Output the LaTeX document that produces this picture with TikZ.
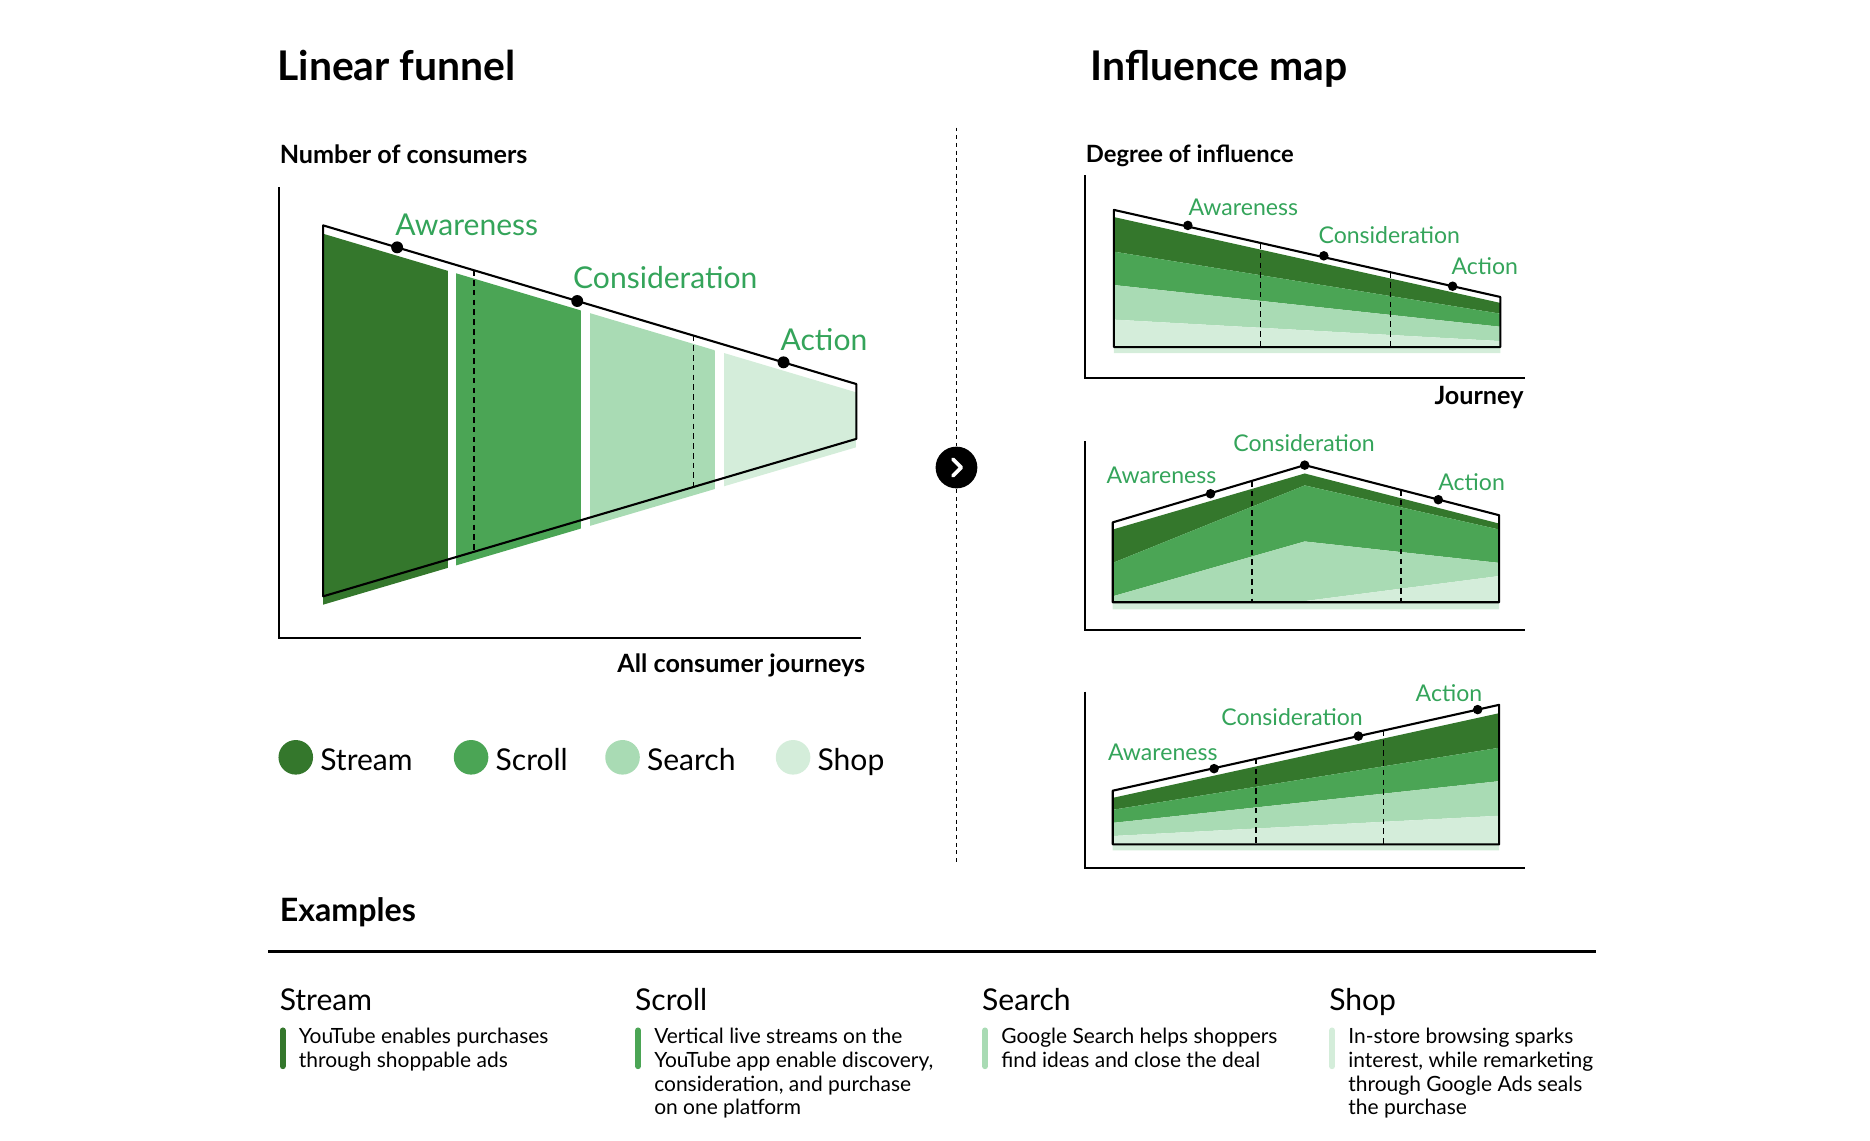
\documentclass[tikz,border=0pt]{standalone}
\usepackage{fontspec}
\setmainfont{Lato}
\usetikzlibrary{positioning}

\definecolor{streamgreen}{HTML}{34772C}
\definecolor{scrollgreen}{HTML}{4BA555}
\definecolor{searchgreen}{HTML}{A9DBB4}
\definecolor{shopgreen}{HTML}{D4EDDA}
\definecolor{labelgreen}{HTML}{34A45A}

\begin{document}
\begin{tikzpicture}[
  x=0.012cm, y=-0.012cm,
  axis/.style={line width=0.6pt},
  outline/.style={draw=black, line width=0.6pt, line join=round},
  divider/.style={dash pattern=on 1.6pt off 1.2pt, line width=0.5pt},
  separator/.style={dash pattern=on 1.1pt off 1.1pt, line width=0.55pt},
  stage/.style={text=labelgreen, anchor=base west, inner sep=0pt, font=\fontsize{8.6}{10}\selectfont},
  small stage/.style={stage, font=\fontsize{6.6}{8}\selectfont},
  heading/.style={anchor=base west, inner sep=0pt, font=\bfseries\fontsize{11.7}{14}\selectfont},
  axislabel/.style={inner sep=0pt, font=\bfseries\fontsize{7.2}{9}\selectfont},
  legendtext/.style={anchor=base west, inner sep=0pt, font=\fontsize{8.6}{10}\selectfont},
  colhead/.style={anchor=base west, inner sep=0pt, font=\fontsize{8.6}{10}\selectfont},
  body/.style={anchor=north west, inner sep=0pt, align=left, font=\fontsize{6}{6.8}\selectfont},
  bar/.style={line width=1.7pt, line cap=round}
]
\useasboundingbox (0,0) rectangle (1568,956);

% Titles
\node[heading] (funneltitle) at (232,67.5) {Linear funnel};
\node[heading] (maptitle) at (914,67.5) {Influence map};

% Linear funnel
\node[axislabel, anchor=base west] (consumers) at (234,137) {Number of consumers};
\node[axislabel, anchor=base east] (journeys) at (726,564) {All consumer journeys};
\draw[axis] (234,157) -- (234,535) -- (722,535);

\begin{scope}
  \clip (271,196) -- (718,329) -- (718,375) -- (271,507) -- cycle;
  \fill[streamgreen] (271,150) rectangle (375.6,520);
  \fill[scrollgreen] (382.4,150) rectangle (487.4,520);
  \fill[searchgreen] (494.4,150) rectangle (599.5,520);
  \fill[shopgreen] (607,150) rectangle (718,520);
\end{scope}
\draw[divider] (397.4,226.6) -- (397.4,462.7);
\draw[divider] (581.4,281.3) -- (581.4,408.3);
\draw[outline] (271,189) -- (718,322) -- (718,368) -- (271,500) -- cycle;

\fill (333,207.4) circle (5);
\fill (484,252.4) circle (5);
\fill (657,303.8) circle (5);
\node[stage] (awareness) at (331,197.5) {Awareness};
\node[stage] (consideration) at (480,241.5) {Consideration};
\node[stage] (action) at (654,293.5) {Action};

% Legend
\foreach \cx/\name/\col [count=\i] in {248/Stream/streamgreen, 395/Scroll/scrollgreen, 522/Search/searchgreen, 665/Shop/shopgreen} {
  \fill[\col] (\cx,635) circle (14.5);
  \node[legendtext] (legend\i) at (\cx+20,646) {\name};
}

% Separator with arrow button
\node[circle, fill=black, minimum size=0.42cm, inner sep=0pt] (next) at (802,392) {};
\draw[white, line width=1.1pt, line cap=round, line join=round]
  ([shift={(-3,-7)}]next.center) -- ([shift={(4,0)}]next.center) -- ([shift={(-3,7)}]next.center);
\draw[separator] (802,107) -- (next);
\draw[separator] (next) -- (802,723);

% Influence map: falling
\node[axislabel, anchor=base west, font=\bfseries\fontsize{6.8}{9}\selectfont] (influence) at (910,136) {Degree of influence};
\node[axislabel, anchor=base east] (journey) at (1278,339) {Journey};
\draw[axis] (910,147) -- (910,317) -- (1279,317);
\fill[streamgreen] (934,182) -- (1258,254) -- (1258,263) -- (934,211) -- cycle;
\fill[scrollgreen] (934,211) -- (1258,263) -- (1258,274) -- (934,239) -- cycle;
\fill[searchgreen] (934,239) -- (1258,274) -- (1258,286) -- (934,268) -- cycle;
\fill[shopgreen] (934,268) -- (1258,286) -- (1258,296) -- (934,296) -- cycle;
\draw[divider] (1057,203.7) -- (1057,291);
\draw[divider] (1166,228.3) -- (1166,291);
\draw[outline] (934,176) -- (1258,249) -- (1258,291) -- (934,291) -- cycle;
\fill (996,189) circle (4);
\fill (1110,214.5) circle (4);
\fill (1218,240) circle (4);
\node[small stage] (awareness1) at (996,181) {Awareness};
\node[small stage] (consideration1) at (1105,204) {Consideration};
\node[small stage] (action1) at (1216.5,230) {Action};

% Influence map: peak
\draw[axis] (910,370) -- (910,528) -- (1279,528);
\fill[streamgreen] (933,444) -- (1094,397) -- (1257,439) -- (1257,444) -- (1094,407) -- (933,472) -- cycle;
\fill[scrollgreen] (933,472) -- (1094,407) -- (1257,444) -- (1257,472) -- (1094,454) -- (933,500) -- cycle;
\fill[searchgreen] (933,500) -- (1094,454) -- (1257,472) -- (1257,483) -- (1094,504) -- (933,505) -- cycle;
\fill[shopgreen] (933,505) -- (1094,504) -- (1257,483) -- (1257,511) -- (933,511) -- cycle;
\draw[divider] (1050,403.4) -- (1050,505);
\draw[divider] (1175,410.9) -- (1175,505);
\draw[outline] (933,438) -- (1094,390) -- (1257,432) -- (1257,505) -- (933,505) -- cycle;
\fill (1015,414) circle (4);
\fill (1094,390) circle (4);
\fill (1206,419) circle (4);
\node[small stage] (awareness2) at (927.4,405.5) {Awareness};
\node[small stage] (consideration2) at (1033.6,378.8) {Consideration};
\node[small stage] (action2) at (1205.5,411) {Action};

% Influence map: rising
\draw[axis] (910,580) -- (910,728) -- (1279,728);
\fill[streamgreen] (933,669) -- (1257,598) -- (1257,627) -- (933,679) -- cycle;
\fill[scrollgreen] (933,679) -- (1257,627) -- (1257,655) -- (933,690) -- cycle;
\fill[searchgreen] (933,690) -- (1257,655) -- (1257,684) -- (933,701) -- cycle;
\fill[shopgreen] (933,701) -- (1257,684) -- (1257,713) -- (933,713) -- cycle;
\draw[divider] (1053,636.3) -- (1053,708);
\draw[divider] (1160,612.6) -- (1160,708);
\draw[outline] (933,663) -- (1257,591) -- (1257,708) -- (933,708) -- cycle;
\fill (1018,644.5) circle (4);
\fill (1139,617.2) circle (4);
\fill (1239,595) circle (4);
\node[small stage] (awareness3) at (928.5,637.5) {Awareness};
\node[small stage] (consideration3) at (1023.5,608.5) {Consideration};
\node[small stage] (action3) at (1186.5,588) {Action};

% Examples
\node[anchor=base west, inner sep=0pt, font=\bfseries\fontsize{9.2}{11}\selectfont] (examples) at (234,773) {Examples};
\draw[line width=0.8pt] (225,798) -- (1338,798);
\foreach \x/\name/\col/\txt [count=\i] in {
  234/Stream/streamgreen/{YouTube enables purchases\\through shoppable ads},
  532/Scroll/scrollgreen/{Vertical live streams on the\\YouTube app enable discovery,\\consideration, and purchase\\on one platform},
  823/Search/searchgreen/{Google Search helps shoppers\\find ideas and close the deal},
  1114/Shop/shopgreen/{In-store browsing sparks\\interest, while remarketing\\through Google Ads seals\\the purchase}} {
  \node[colhead] (head\i) at (\x,847.5) {\name};
  \draw[bar, \col] (\x+3,864) -- (\x+3,894);
  \node[body] (text\i) at (\x+16,861.5) {\txt};
}

\end{tikzpicture}
\end{document}
